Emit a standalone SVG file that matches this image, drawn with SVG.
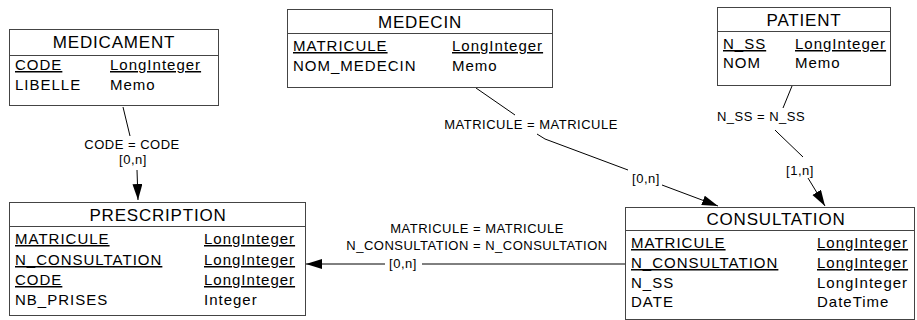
<svg xmlns="http://www.w3.org/2000/svg" width="917" height="320" viewBox="0 0 917 320">
<defs>
<marker id="arr" markerUnits="userSpaceOnUse" markerWidth="18" markerHeight="12" refX="16" refY="5" orient="auto">
<path d="M0,0 L16,5 L0,10 z" fill="#000"/>
</marker>
<style>
.box{fill:#fff;stroke:#444;stroke-width:1}
.sep{stroke:#444;stroke-width:1}
.h{font-family:"Liberation Sans",Arial,sans-serif;font-size:17px;letter-spacing:0.8px;text-anchor:middle;fill:#000}
.r{font-family:"Liberation Sans",Arial,sans-serif;font-size:15px;letter-spacing:1px;fill:#000}
.u{text-decoration:underline;text-decoration-thickness:1.6px;text-underline-offset:2px}
.l{font-family:"Liberation Sans",Arial,sans-serif;font-size:13px;letter-spacing:0.5px;text-anchor:middle;fill:#000}
.c{fill:none;stroke:#000;stroke-width:1}
</style>
</defs>
<g id="connectors">
<path class="c" d="M123,107 L130,136"/>
<path class="c" d="M137,170 L138,200" marker-end="url(#arr)"/>
<path class="c" d="M476,88 L515,115"/>
<path class="c" d="M537,134 L545,139 L628,170"/>
<path class="c" d="M662,185 L718,206" marker-end="url(#arr)"/>
<path class="c" d="M792,86 L783,108"/>
<path class="c" d="M775,130 L778,133 L803,157"/>
<path class="c" d="M808,178 L825,206" marker-end="url(#arr)"/>
<path class="c" d="M625,264 L422,264"/>
<path class="c" d="M385,264 L306,264" marker-end="url(#arr)"/>
<text class="l" x="132" y="149">CODE = CODE</text>
<text class="l" x="133" y="164">[0,n]</text>
<text class="l" x="531" y="129">MATRICULE = MATRICULE</text>
<text class="l" x="646" y="183">[0,n]</text>
<text class="l" x="761" y="121">N_SS = N_SS</text>
<text class="l" x="800" y="175">[1,n]</text>
<text class="l" x="477" y="233">MATRICULE = MATRICULE</text>
<text class="l" x="477" y="250">N_CONSULTATION = N_CONSULTATION</text>
<text class="l" x="403" y="268">[0,n]</text>
</g>
<g id="MEDICAMENT">
<rect class="box" x="9.5" y="29.5" width="209" height="76"/>
<line class="sep" x1="9.5" y1="55.5" x2="218.5" y2="55.5"/>
<text class="h" x="114" y="48">MEDICAMENT</text>
<text class="r u" x="15" y="70">CODE</text>
<text class="r u" x="110" y="70">LongInteger</text>
<text class="r" x="15" y="90">LIBELLE</text>
<text class="r" x="110" y="90">Memo</text>
</g>
<g id="MEDECIN">
<rect class="box" x="287.5" y="9.5" width="265" height="78"/>
<line class="sep" x1="287.5" y1="33.5" x2="552.5" y2="33.5"/>
<text class="h" x="420" y="28">MEDECIN</text>
<text class="r u" x="293" y="51">MATRICULE</text>
<text class="r u" x="452" y="51">LongInteger</text>
<text class="r" x="293" y="71">NOM_MEDECIN</text>
<text class="r" x="452" y="71">Memo</text>
</g>
<g id="PATIENT">
<rect class="box" x="717.5" y="7.5" width="173" height="78"/>
<line class="sep" x1="717.5" y1="31.5" x2="890.5" y2="31.5"/>
<text class="h" x="804" y="26">PATIENT</text>
<text class="r u" x="723" y="49">N_SS</text>
<text class="r u" x="795" y="49">LongInteger</text>
<text class="r" x="723" y="68">NOM</text>
<text class="r" x="795" y="68">Memo</text>
</g>
<g id="PRESCRIPTION">
<rect class="box" x="9.5" y="202.5" width="296" height="113"/>
<line class="sep" x1="9.5" y1="226.5" x2="305.5" y2="226.5"/>
<text class="h" x="158" y="221">PRESCRIPTION</text>
<text class="r u" x="15" y="244">MATRICULE</text>
<text class="r u" x="204" y="244">LongInteger</text>
<text class="r u" x="15" y="265">N_CONSULTATION</text>
<text class="r u" x="204" y="265">LongInteger</text>
<text class="r u" x="15" y="285">CODE</text>
<text class="r u" x="204" y="285">LongInteger</text>
<text class="r" x="15" y="305">NB_PRISES</text>
<text class="r" x="204" y="305">Integer</text>
</g>
<g id="CONSULTATION">
<rect class="box" x="625.5" y="207.5" width="289" height="112"/>
<line class="sep" x1="625.5" y1="230.5" x2="914.5" y2="230.5"/>
<text class="h" x="776" y="225">CONSULTATION</text>
<text class="r u" x="631" y="248">MATRICULE</text>
<text class="r u" x="817" y="248">LongInteger</text>
<text class="r u" x="631" y="268">N_CONSULTATION</text>
<text class="r u" x="817" y="268">LongInteger</text>
<text class="r" x="631" y="288">N_SS</text>
<text class="r" x="817" y="288">LongInteger</text>
<text class="r" x="631" y="307">DATE</text>
<text class="r" x="817" y="307">DateTime</text>
</g>
</svg>
